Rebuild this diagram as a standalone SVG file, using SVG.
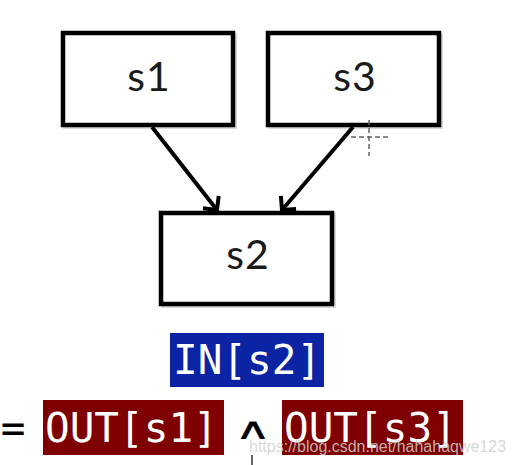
<svg xmlns="http://www.w3.org/2000/svg" width="513" height="465" viewBox="0 0 513 465">
<defs>
<style>
.box{fill:#fff;stroke:#000;stroke-width:4.5}
.shadow{fill:none;stroke:#000;stroke-opacity:0.15;stroke-width:4}
.lbl{font-family:Lato,"Open Sans",sans-serif;font-size:41px;fill:#1a1a1a;text-anchor:middle;letter-spacing:1px}
.mono{font-family:"DejaVu Sans Mono","Liberation Mono",monospace;font-size:41px;fill:#fff}
.edge{stroke:#000;stroke-width:4;fill:none;marker-end:url(#arr)}
</style>
<marker id="arr" markerUnits="userSpaceOnUse" viewBox="-14 -12 16 24" refX="0" refY="0" markerWidth="16" markerHeight="24" orient="auto">
<path d="M -10 -10 L 0 0 L -10 10" fill="none" stroke="#000" stroke-width="4"/>
</marker>
</defs>
<rect width="513" height="465" fill="#fff"/>
<g id="s1"><rect class="shadow" x="65" y="35" width="170" height="92"/><rect class="box" x="63" y="33" width="170" height="92"/><text class="lbl" x="149" y="91">s1</text></g>
<g id="s3"><rect class="shadow" x="270" y="35" width="171" height="92"/><rect class="box" x="268" y="33" width="171" height="92"/><text class="lbl" x="355" y="91">s3</text></g>
<g id="s2"><rect class="shadow" x="163" y="215" width="171" height="91"/><rect class="box" x="161" y="213" width="171" height="91"/><text class="lbl" x="248" y="269">s2</text></g>
<g id="edges">
<line class="edge" x1="152" y1="127" x2="217" y2="210"/>
<line class="edge" x1="353" y1="127" x2="282" y2="210"/>
</g>
<g id="cursor" stroke="#666" stroke-width="1.5" stroke-dasharray="5 3">
<line x1="369" y1="120" x2="369" y2="156"/>
<line x1="351" y1="137" x2="388" y2="137"/>
</g>
<g id="formula">
<rect x="170" y="333" width="154" height="54" fill="#0b24a3"/>
<text class="mono" x="173" y="374">IN[s2]</text>
<text x="13" y="442" font-family="DejaVu Sans Mono,monospace" font-size="41" text-anchor="middle" fill="#000">=</text>
<rect x="43" y="400" width="181" height="55" fill="#7f0000"/>
<text class="mono" x="45" y="442">OUT[s1]</text>
<text transform="translate(253,439) scale(1.7,1)" font-family="DejaVu Sans,sans-serif" font-size="30" text-anchor="middle" fill="#000" stroke="#000" stroke-width="0.2">∧</text>
<rect x="282" y="400" width="181" height="55" fill="#7f0000"/>
<text class="mono" x="284" y="442">OUT[s3]</text>
<line x1="252" y1="455" x2="252" y2="465" stroke="#333" stroke-width="1.5"/>
<text x="249" y="452" font-family="Liberation Sans,Arial,sans-serif" font-size="16" fill="#d0d0d0" fill-opacity="0.85">https://blog.csdn.net/hahahaqwe123</text>
</g>
</svg>
